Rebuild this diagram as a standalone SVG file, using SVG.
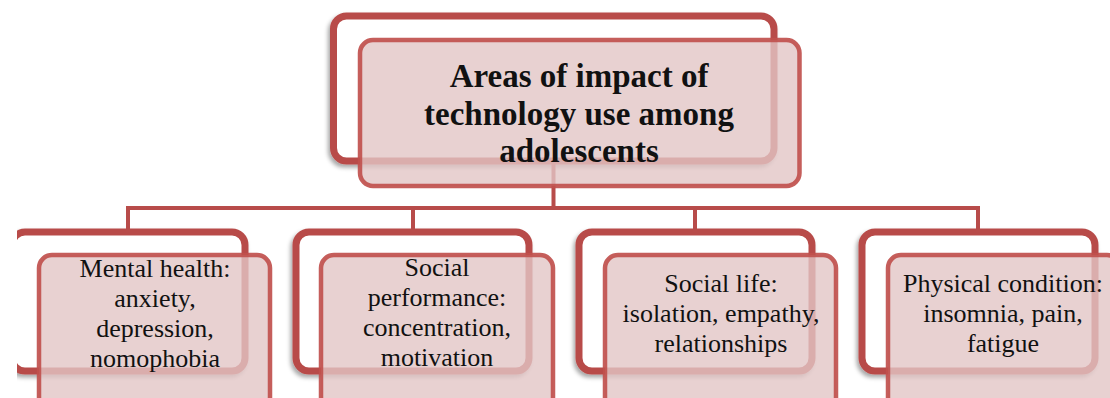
<svg xmlns="http://www.w3.org/2000/svg" width="1110" height="398" viewBox="0 0 1110 398">
<style>
.back{fill:#ffffff;stroke:#b84c4a;stroke-width:7;filter:url(#sh)}
.front{fill:#e2c6c6;fill-opacity:0.8;stroke:#c0504d;stroke-opacity:0.92;stroke-width:4.5}
.conn{fill:none;stroke:#b84c4a;stroke-width:4}
.title{font-family:"Liberation Serif",serif;font-weight:bold;font-size:33px;fill:#111;text-anchor:middle}
.lbl{font-family:"Liberation Serif",serif;font-size:26px;fill:#111;text-anchor:middle}
</style>
<defs>
<filter id="sh" x="-10%" y="-10%" width="120%" height="130%">
<feDropShadow dx="-2" dy="3" stdDeviation="2" flood-color="#000" flood-opacity="0.35"/>
</filter>
<clipPath id="c1"><rect x="17" y="0" width="1100" height="398"/></clipPath>
</defs>
<rect width="1110" height="398" fill="#ffffff"/>
<g id="root-back"><rect class="back" x="333.5" y="16" width="440.5" height="145" rx="13"/></g>
<g id="n1-back" clip-path="url(#c1)"><rect class="back" x="12" y="232" width="233" height="139" rx="13"/></g>
<g id="n2-back"><rect class="back" x="296" y="232" width="233" height="139" rx="13"/></g>
<g id="n3-back"><rect class="back" x="579" y="232" width="233" height="139" rx="13"/></g>
<g id="n4-back"><rect class="back" x="862" y="232" width="233" height="139" rx="13"/></g>
<g id="connectors">
<path class="conn" d="M553.5 162 V208 M128 232 V208 H978 V232 M413 208 V232 M695 208 V232"/>
</g>
<g id="root">
<rect class="front" x="360" y="40" width="439.5" height="146" rx="13"/>
<text class="title" x="579" y="87">Areas of impact of</text>
<text class="title" x="579" y="125">technology use among</text>
<text class="title" x="579" y="162">adolescents</text>
</g>
<g id="n1">
<rect class="front" x="39" y="255" width="231" height="160" rx="13"/>
<text class="lbl" x="155" y="277">Mental health:</text>
<text class="lbl" x="155" y="307">anxiety,</text>
<text class="lbl" x="155" y="337">depression,</text>
<text class="lbl" x="155" y="367">nomophobia</text>
</g>
<g id="n2">
<rect class="front" x="321" y="255" width="232" height="160" rx="13"/>
<text class="lbl" x="437" y="276">Social</text>
<text class="lbl" x="437" y="306">performance:</text>
<text class="lbl" x="437" y="336">concentration,</text>
<text class="lbl" x="437" y="366">motivation</text>
</g>
<g id="n3">
<rect class="front" x="605" y="255" width="231" height="160" rx="13"/>
<text class="lbl" x="721" y="292">Social life:</text>
<text class="lbl" x="721" y="322">isolation, empathy,</text>
<text class="lbl" x="721" y="352">relationships</text>
</g>
<g id="n4">
<rect class="front" x="888" y="255" width="232" height="160" rx="13"/>
<text class="lbl" x="1003" y="292">Physical condition:</text>
<text class="lbl" x="1003" y="322">insomnia, pain,</text>
<text class="lbl" x="1003" y="352">fatigue</text>
</g>
</svg>
